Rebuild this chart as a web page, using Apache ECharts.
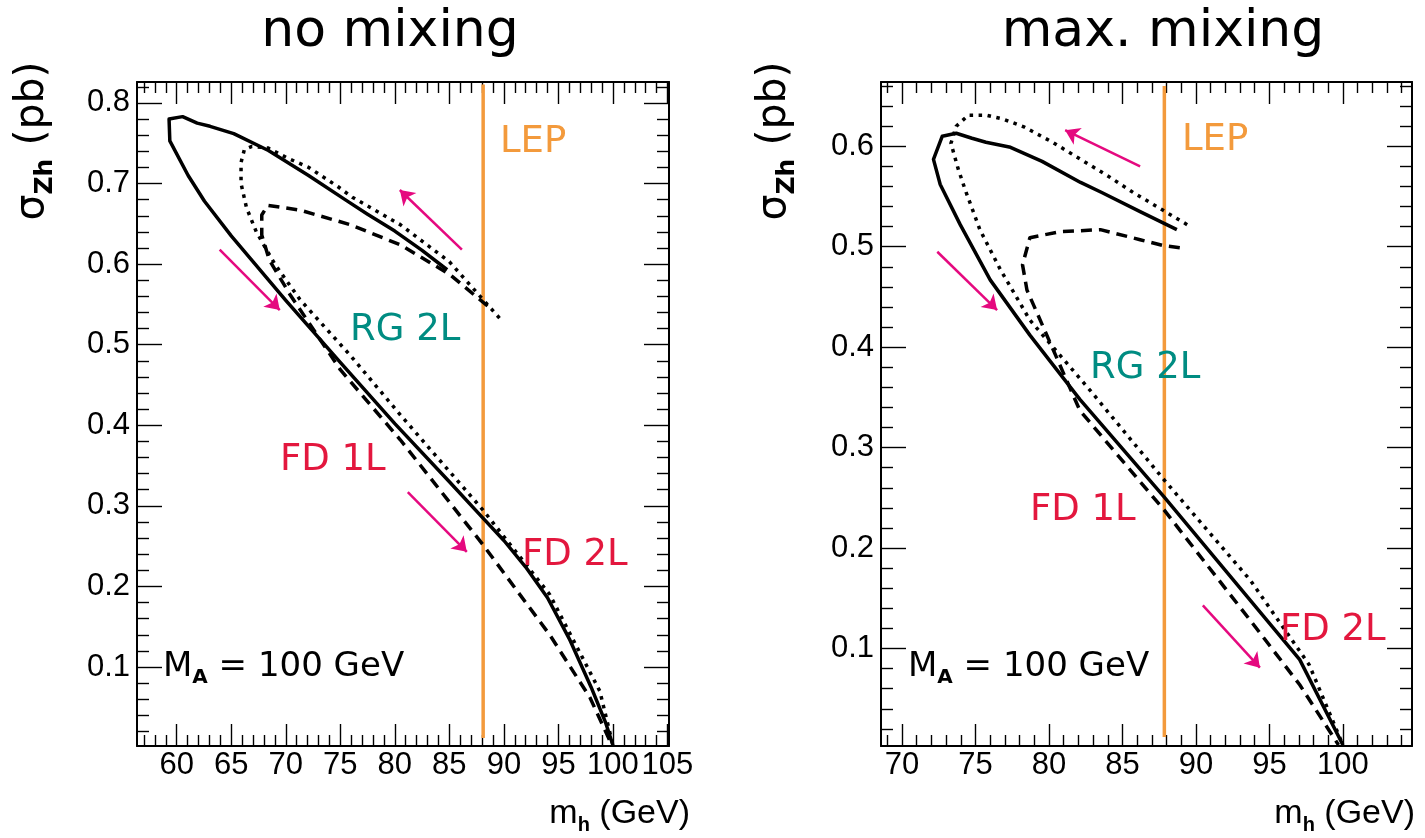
<!DOCTYPE html>
<html><head><meta charset="utf-8">
<script src="https://cdn.jsdelivr.net/npm/echarts@6.0.0/dist/echarts.min.js"></script>
<style>html,body{margin:0;padding:0;background:#fff}#c{width:1425px;height:838px}</style>
</head><body><div id="c"></div>
<script>
// ---------- axis ticks ----------
const noMixXMajor = [60,65,70,75,80,85,90,95,100,105];
const noMixXMinor = [57,58,59,61,62,63,64,66,67,68,69,71,72,73,74,76,77,78,79,81,82,83,84,86,87,88,89,91,92,93,94,96,97,98,99,101,102,103,104];
const noMixYMajor = [0.1,0.2,0.3,0.4,0.5,0.6,0.7,0.8];
const noMixYMinor = [0.02,0.04,0.06,0.08,0.12,0.14,0.16,0.18,0.22,0.24,0.26,0.28,0.32,0.34,0.36,0.38,0.42,0.44,0.46,0.48,0.52,0.54,0.56,0.58,0.62,0.64,0.66,0.68,0.72,0.74,0.76,0.78,0.82];
const maxMixXMajor = [70,75,80,85,90,95,100];
const maxMixXMinor = [69,71,72,73,74,76,77,78,79,81,82,83,84,86,87,88,89,91,92,93,94,96,97,98,99,101,102,103,104];
const maxMixYMajor = [0.1,0.2,0.3,0.4,0.5,0.6];
const maxMixYMinor = [0.02,0.04,0.06,0.08,0.12,0.14,0.16,0.18,0.22,0.24,0.26,0.28,0.32,0.34,0.36,0.38,0.42,0.44,0.46,0.48,0.52,0.54,0.56,0.58,0.62,0.64,0.66];

// ---------- no mixing curves [m_h, sigma] ----------
const noMixSolid = [[84.8,0.593],[82.5,0.617],[80,0.641],[77.5,0.662],[75.44,0.680],[72.09,0.710],[68.41,0.741],[65.23,0.762],[63.06,0.771],[61.88,0.775],[60.54,0.783],[59.3,0.780],[59.37,0.753],[61.05,0.710],[62.55,0.678],[65,0.635],[70,0.555],[75,0.478],[80,0.402],[85,0.330],[88,0.286],[90,0.257],[92,0.224],[94,0.186],[96,0.135],[98,0.075],[99.3,0.032],[100,0.003]];
const noMixDashed = [[88.5,0.548],[85.05,0.587],[80.5,0.624],[75.9,0.649],[71.3,0.667],[68.35,0.673],[67.8,0.661],[67.8,0.636],[68.5,0.605],[70.4,0.562],[75,0.469],[80.5,0.382],[88.07,0.252],[94.2,0.140],[97.9,0.062],[99.9,0.003]];
const noMixDotted = [[89.6,0.533],[85.0,0.603],[80.5,0.649],[76.1,0.683],[74.8,0.696],[72.1,0.720],[70.1,0.732],[68.4,0.744],[66.9,0.746],[66.2,0.742],[65.9,0.726],[65.9,0.700],[66.4,0.670],[67.3,0.640],[69.0,0.600],[71.3,0.556],[75.9,0.487],[80.5,0.413],[88.07,0.295],[94.2,0.190],[98.8,0.070],[100,0.003]];
const noMixLEP = [[88.1,0.012],[88.1,0.823]];
const noMixArrows = [[[86.15,0.618],[80.46,0.692]],[[63.94,0.618],[69.45,0.543]],[[81.19,0.317],[86.6,0.243]]];

// ---------- max mixing curves ----------
const maxMixSolid = [[88.7,0.517],[86.2,0.535],[83.59,0.554],[82.15,0.564],[79.53,0.585],[77.38,0.599],[75.71,0.604],[74.76,0.608],[73.69,0.613],[72.74,0.610],[72.14,0.587],[72.6,0.562],[73.96,0.522],[76.0,0.467],[78.7,0.412],[82.1,0.348],[87.83,0.251],[93.7,0.148],[97.06,0.089],[100,0.004]];
const maxMixDashed = [[88.9,0.499],[87.83,0.501],[86.2,0.507],[83.5,0.517],[80.75,0.515],[78.7,0.509],[78.2,0.482],[78.5,0.457],[82.1,0.337],[87.83,0.238],[93.7,0.128],[97.06,0.064],[99.7,0.004]];
const maxMixDotted = [[89.4,0.522],[85.73,0.554],[84.06,0.570],[82.15,0.587],[80.25,0.604],[78.34,0.619],[76.9,0.627],[75.71,0.631],[74.52,0.631],[73.69,0.620],[73.33,0.603],[73.81,0.578],[74.29,0.557],[75.3,0.517],[76.7,0.477],[78.7,0.427],[82.8,0.357],[87.83,0.268],[93.7,0.168],[97.7,0.084],[100,0.004]];
const maxMixLEP = [[87.85,0.012],[87.85,0.66]];
const maxMixArrows = [[[86.2,0.580],[81.1,0.616]],[[72.4,0.495],[76.47,0.437]],[[90.47,0.143],[94.35,0.081]]];

// ---------- texts ----------
const panelTitles = ['no mixing','max. mixing'];

const BLACK = '#000';
const ORANGE = '#F39A3C';
const MAGENTA = '#E5097F';
const TEAL = '#008C82';
const CRIMSON = '#E3173E';
const TICKFONT = 'Liberation Sans, Arial, sans-serif';
const LBLFONT = 'DejaVu Sans, sans-serif';

const grids = [
  {left:137, top:82, width:532, height:664},
  {left:881, top:82, width:531, height:664}
];
const ranges = [
  {x:[56.36,105.14], y:[0.002,0.826], xMaj:noMixXMajor, xMin:noMixXMinor, yMaj:noMixYMajor, yMin:noMixYMinor},
  {x:[68.57,104.7], y:[0.003,0.664], xMaj:maxMixXMajor, xMin:maxMixXMinor, yMaj:maxMixYMajor, yMin:maxMixYMinor}
];

const xAxes = [], yAxes = [];
ranges.forEach((r, g) => {
  [['bottom',true],['top',false]].forEach(([pos, lbl]) => {
    xAxes.push({gridIndex:g, type:'value', min:r.x[0], max:r.x[1], position:pos,
      axisLine:{show:true, onZero:false, lineStyle:{color:BLACK, width:2}},
      axisTick:{show:true, inside:true, length:22, customValues:r.xMaj, lineStyle:{color:BLACK, width:1.4}},
      axisLabel:{show:lbl, customValues:r.xMaj, fontSize:31, color:BLACK, fontFamily:TICKFONT, margin:4},
      splitLine:{show:false}});
    xAxes.push({gridIndex:g, type:'value', min:r.x[0], max:r.x[1], position:pos,
      axisLine:{show:false, onZero:false},
      axisTick:{show:true, inside:true, length:11, customValues:r.xMin, lineStyle:{color:BLACK, width:1.4}},
      axisLabel:{show:false}, splitLine:{show:false}});
  });
  [['left',true],['right',false]].forEach(([pos, lbl]) => {
    yAxes.push({gridIndex:g, type:'value', min:r.y[0], max:r.y[1], position:pos,
      axisLine:{show:true, onZero:false, lineStyle:{color:BLACK, width:2}},
      axisTick:{show:true, inside:true, length:25, customValues:r.yMaj, lineStyle:{color:BLACK, width:1.4}},
      axisLabel:{show:lbl, customValues:r.yMaj, fontSize:31, color:BLACK, fontFamily:TICKFONT, margin:7},
      splitLine:{show:false}});
    yAxes.push({gridIndex:g, type:'value', min:r.y[0], max:r.y[1], position:pos,
      axisLine:{show:false, onZero:false},
      axisTick:{show:true, inside:true, length:12, customValues:r.yMin, lineStyle:{color:BLACK, width:1.4}},
      axisLabel:{show:false}, splitLine:{show:false}});
  });
});

function curve(g, data, type) {
  return {type:'line', xAxisIndex:g*4, yAxisIndex:g*4, data:data, showSymbol:false, symbol:'none',
    clip:true, z:3,
    lineStyle:{color:BLACK, width:3.5, type:type, cap:'butt', join:'round'}};
}
function lep(g, data) {
  return {type:'line', xAxisIndex:g*4, yAxisIndex:g*4, data:data, showSymbol:false, symbol:'none', z:2,
    lineStyle:{color:ORANGE, width:3.5}};
}
function arrows(g, list) {
  return {type:'lines', coordinateSystem:'cartesian2d', xAxisIndex:g*4, yAxisIndex:g*4, z:4,
    symbol:['none','arrow'], symbolSize:14,
    lineStyle:{color:MAGENTA, width:2.5, opacity:1},
    data:list.map(c => ({coords:c}))};
}

const series = [
  lep(0, noMixLEP), curve(0, noMixSolid, 'solid'), curve(0, noMixDashed, [11,7]), curve(0, noMixDotted, [3.5,5.5]), arrows(0, noMixArrows),
  lep(1, maxMixLEP), curve(1, maxMixSolid, 'solid'), curve(1, maxMixDashed, [11,7]), curve(1, maxMixDotted, [3.5,5.5]), arrows(1, maxMixArrows)
];

function txt(x, y, text, color, size, align) {
  return {type:'text', x:x, y:y, z:10,
    style:{text:text, fill:color, font: size + 'px ' + LBLFONT, align:align||'left', verticalAlign:'middle'}};
}
function richTxt(x, y, text, rich, align, rotation) {
  return {type:'text', x:x, y:y, z:10, rotation:rotation||0,
    style:{text:text, rich:rich, align:align, verticalAlign:'middle'}};
}
function richSet(main, sub, lh, fam) {
  return {
    n:{fontSize:main, fontFamily:fam, fill:BLACK, lineHeight:lh, verticalAlign:'middle'},
    s:{fontSize:sub, fontFamily:fam, fontWeight:'bold', fill:BLACK, lineHeight:lh, verticalAlign:'bottom'}
  };
}
const maRich = richSet(34, 20, 42, LBLFONT);
const xTitleRich = richSet(34, 20, 42, TICKFONT);
const yTitleRich = richSet(41, 25, 52, LBLFONT);

const graphic = [
  txt(390, 32, panelTitles[0], BLACK, 52, 'center'),
  txt(1163, 32, panelTitles[1], BLACK, 52, 'center'),
  // left panel labels
  txt(500, 142, 'LEP', ORANGE, 37),
  txt(350, 330, 'RG 2L', TEAL, 37),
  txt(280, 460, 'FD 1L', CRIMSON, 37),
  txt(522, 555, 'FD 2L', CRIMSON, 37),
  richTxt(163, 667, '{n|M}{s|A}{n| = 100 GeV}', maRich, 'left'),
  // right panel labels
  txt(1182, 140, 'LEP', ORANGE, 37),
  txt(1090, 368, 'RG 2L', TEAL, 37),
  txt(1030, 510, 'FD 1L', CRIMSON, 37),
  txt(1280, 630, 'FD 2L', CRIMSON, 37),
  richTxt(908, 667, '{n|M}{s|A}{n| = 100 GeV}', maRich, 'left'),
  // axis titles
  richTxt(690, 814, '{n|m}{s|h}{n| (GeV)}', xTitleRich, 'right'),
  richTxt(1415, 814, '{n|m}{s|h}{n| (GeV)}', xTitleRich, 'right'),
  richTxt(32, 141, '{n|σ}{s|Zh}{n| (pb)}', yTitleRich, 'center', Math.PI/2),
  richTxt(774, 141, '{n|σ}{s|Zh}{n| (pb)}', yTitleRich, 'center', Math.PI/2)
];

const chart = echarts.init(document.getElementById('c'), null, {renderer:'canvas'});
chart.setOption({
  animation:false,
  backgroundColor:'#fff',
  grid:grids.map(g => Object.assign({containLabel:false}, g)),
  xAxis:xAxes, yAxis:yAxes,
  series:series,
  graphic:graphic
});
</script></body></html>
